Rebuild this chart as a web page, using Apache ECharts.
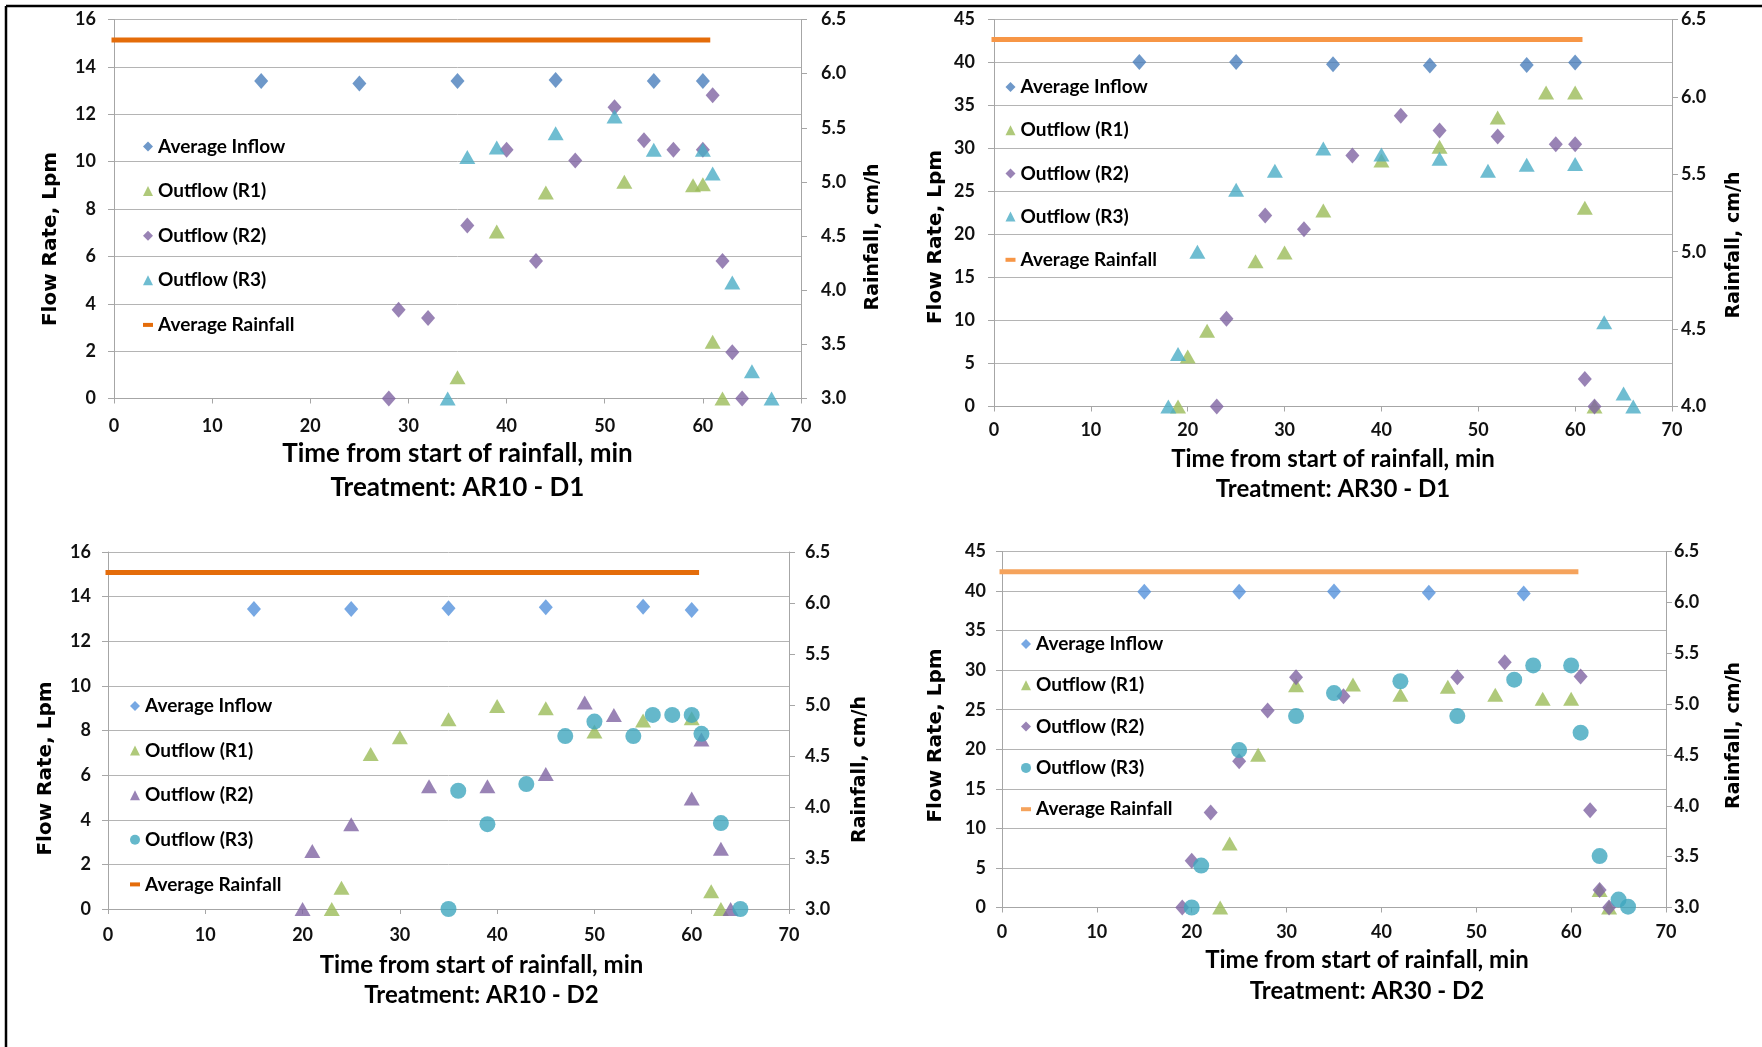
<!DOCTYPE html>
<html>
<head>
<meta charset="utf-8">
<script src="https://cdn.jsdelivr.net/npm/echarts@6/dist/echarts.min.js"></script>
<style>
html,body{margin:0;padding:0;background:#fff;}
#chart{width:1762px;height:1047px;}
</style>
</head>
<body>
<div id="chart"></div>
<script>
// ---------- DATA ----------
const xTicks = [0, 10, 20, 30, 40, 50, 60, 70];
const legendNames = ['Average Inflow', 'Outflow (R1)', 'Outflow (R2)', 'Outflow (R3)', 'Average Rainfall'];
const treatments = ['Treatment: AR10 - D1', 'Treatment: AR30 - D1', 'Treatment: AR10 - D2', 'Treatment: AR30 - D2'];

// AR10 - D1
const ar10d1Inflow = [[15,13.4],[25,13.3],[35,13.4],[45,13.45],[55,13.4],[60,13.4]];
const ar10d1R1 = [[35,0.9],[39,7.05],[44,8.7],[52,9.15],[59,9.0],[60,9.05],[61,2.4],[62,0]];
const ar10d1R2 = [[28,0],[29,3.75],[32,3.4],[36,7.3],[40,10.5],[43,5.8],[47,10.05],[51,12.3],[54,10.9],[57,10.5],[60,10.5],[61,12.8],[62,5.8],[63,1.95],[64,0]];
const ar10d1R3 = [[34,0],[36,10.2],[39,10.6],[45,11.2],[51,11.9],[55,10.5],[60,10.5],[61,9.5],[63,4.9],[65,1.15],[67,0]];
const ar10d1Rain = [[0,6.31],[60.5,6.31]];

// AR30 - D1
const ar30d1Inflow = [[15,40.05],[25,40.05],[35,39.8],[45,39.65],[55,39.7],[60,40]];
const ar30d1R1 = [[19,0],[20,5.8],[22,8.8],[27,16.9],[30,17.9],[34,22.8],[40,28.6],[46,30.2],[52,33.6],[57,36.5],[60,36.5],[61,23.1],[62,0]];
const ar30d1R2 = [[23,0],[24,10.2],[28,22.2],[32,20.6],[37,29.2],[42,33.8],[46,32.1],[52,31.4],[58,30.5],[60,30.5],[61,3.2],[62,0]];
const ar30d1R3 = [[18,0],[19,6.1],[21,18],[25,25.2],[29,27.4],[34,30],[40,29.3],[46,28.8],[51,27.4],[55,28.1],[60,28.2],[63,9.8],[65,1.5],[66,0]];
const ar30d1Rain = [[0,6.37],[60.5,6.37]];

// AR10 - D2
const ar10d2Inflow = [[15,13.45],[25,13.45],[35,13.48],[45,13.52],[55,13.55],[60,13.4]];
const ar10d2R1 = [[23,0],[24,0.95],[27,6.95],[30,7.7],[35,8.5],[40,9.1],[45,9.0],[50,7.95],[55,8.45],[60,8.55],[62,0.8],[63,0]];
const ar10d2R2 = [[20,0],[21,2.6],[25,3.8],[33,5.5],[39,5.5],[45,6.05],[49,9.25],[52,8.7],[60,4.95],[61,7.6],[63,2.7],[64,0]];
const ar10d2R3 = [[35,0],[36,5.3],[39,3.8],[43,5.6],[47,7.75],[50,8.4],[54,7.75],[56,8.7],[58,8.7],[60,8.7],[61,7.85],[63,3.85],[65,0]];
const ar10d2Rain = [[0,6.30],[60.5,6.30]];

// AR30 - D2
const ar30d2Inflow = [[15,39.9],[25,39.9],[35,39.95],[45,39.8],[55,39.7]];
const ar30d2R1 = [[23,0],[24,8.1],[27,19.3],[31,28.1],[37,28.2],[42,26.9],[47,27.9],[52,26.9],[57,26.4],[60,26.4],[63,2.2],[64,0]];
const ar30d2R2 = [[19,0],[20,5.9],[22,12],[25,18.5],[28,24.9],[31,29.1],[36,26.7],[48,29.1],[53,31],[61,29.2],[62,12.3],[63,2.2],[64,0]];
const ar30d2R3 = [[20,0],[21,5.3],[25,19.9],[31,24.2],[35,27.1],[42,28.6],[48,24.2],[54,28.8],[56,30.6],[60,30.6],[61,22.1],[63,6.5],[65,1],[66,0.1]];
const ar30d2Rain = [[0,6.30],[60.5,6.30]];

// ---------- LAYOUT / STYLE ----------
const panels = [
  { data:[ar10d1Inflow, ar10d1R1, ar10d1R2, ar10d1R3, ar10d1Rain],
    grid:{left:114, top:19.5, width:687, height:379},
    yMax:16, yInt:2, rMin:3, rMax:6.5,
    sym:['diamond','triangle','diamond','triangle'],
    col:['#4A7EBB','#9BBB59','#8064A2','#4BACC6','#E46C0A'],
    legend:{left:143, top:136.5, gap:24.6},
    gapL:53, gapR:63, gapX:34, lh:34, fX:26, shX:0,
    mL:18, mR:20, mX:19, shL:30, shR:28 },
  { data:[ar30d1Inflow, ar30d1R1, ar30d1R2, ar30d1R3, ar30d1Rain],
    grid:{left:994, top:19.5, width:678, height:387},
    yMax:45, yInt:5, rMin:4, rMax:6.5,
    sym:['diamond','triangle','diamond','triangle'],
    col:['#4A7EBB','#9BBB59','#8064A2','#4BACC6','#F79646'],
    legend:{left:1005.5, top:77, gap:23.2},
    gapL:48, gapR:53, gapX:38, lh:30, fX:24, shX:0,
    mL:19, mR:9, mX:15, shL:24, shR:32 },
  { data:[ar10d2Inflow, ar10d2R1, ar10d2R2, ar10d2R3, ar10d2Rain],
    grid:{left:108, top:552, width:681, height:357},
    yMax:16, yInt:2, rMin:3, rMax:6.5,
    sym:['diamond','triangle','triangle','circle'],
    col:['#5592DC','#9BBB59','#8064A2','#3FA6BE','#E46C0A'],
    legend:{left:130, top:696, gap:24.6},
    gapL:52, gapR:62, gapX:41, lh:30.5, fX:24, shX:33,
    mL:17, mR:16, mX:17.5, shL:38, shR:39 },
  { data:[ar30d2Inflow, ar30d2R1, ar30d2R2, ar30d2R3, ar30d2Rain],
    grid:{left:1002, top:551.5, width:664, height:356},
    yMax:45, yInt:5, rMin:3, rMax:6.5,
    sym:['diamond','triangle','diamond','circle'],
    col:['#5592DC','#9BBB59','#8064A2','#3FA6BE','#F5A35C'],
    legend:{left:1021, top:634, gap:21.3},
    gapL:56, gapR:59, gapX:38, lh:30.5, fX:24, shX:33,
    mL:16, mR:8, mX:15.5, shL:6, shR:6 }
];

const symSize = { diamond:[14,16], triangle:[16,14], circle:16 };
const gridColor = '#B4B4B4';
const axisColor = '#A6A6A6';
const tickFont = { fontFamily:'Lato', fontWeight:'bold', fontSize:18, color:'#111' };

const option = { animation:false, backgroundColor:'#fff', grid:[], xAxis:[], yAxis:[], series:[], legend:[],
  graphic:[
    {type:'line', shape:{x1:6,y1:6,x2:1762,y2:6}, style:{stroke:'#000', lineWidth:2.5}, silent:true},
    {type:'line', shape:{x1:6,y1:6,x2:6,y2:1047}, style:{stroke:'#000', lineWidth:2.5}, silent:true}
  ]};

panels.forEach((p, i) => {
  option.grid.push(Object.assign({containLabel:false}, p.grid));
  option.xAxis.push({
    type:'value', gridIndex:i, min:xTicks[0], max:xTicks[xTicks.length-1], interval:xTicks[1]-xTicks[0],
    axisLine:{show:true, lineStyle:{color:axisColor, width:1}},
    axisTick:{show:true, length:5, lineStyle:{color:axisColor}},
    splitLine:{show:false},
    axisLabel:Object.assign({margin:p.mX}, tickFont),
    name:'Time from start of rainfall, min\n' + treatments[i],
    nameLocation:'middle', nameGap:p.gapX,
    nameTextStyle:{fontFamily:'Lato', fontWeight:'bold', fontSize:p.fX, color:'#000', lineHeight:p.lh,
      padding:[0, 0, 0, 2*p.shX]}
  });
  option.yAxis.push({
    type:'value', gridIndex:i, min:0, max:p.yMax, interval:p.yInt, position:'left',
    axisLine:{show:true, lineStyle:{color:axisColor, width:1}},
    axisTick:{show:true, length:6, lineStyle:{color:axisColor}},
    splitLine:{show:true, lineStyle:{color:gridColor, width:1}},
    axisLabel:Object.assign({margin:p.mL}, tickFont),
    name:'Flow Rate, Lpm', nameLocation:'middle', nameRotate:90, nameGap:p.gapL,
    nameTextStyle:{fontFamily:'DejaVu Sans', fontWeight:'bold', fontSize:20, color:'#000', padding:[0, 2*p.shL, 0, 0]}
  });
  option.yAxis.push({
    type:'value', gridIndex:i, min:p.rMin, max:p.rMax, interval:0.5, position:'right',
    axisLine:{show:true, lineStyle:{color:axisColor, width:1}},
    axisTick:{show:true, length:6, lineStyle:{color:axisColor}},
    splitLine:{show:false},
    axisLabel:Object.assign({margin:p.mR, formatter:v => v.toFixed(1)}, tickFont),
    name:'Rainfall, cm/h', nameLocation:'middle', nameRotate:90, nameGap:p.gapR,
    nameTextStyle:{fontFamily:'DejaVu Sans', fontWeight:'bold', fontSize:19, color:'#000', padding:[0, 2*p.shR, 0, 0]}
  });
  const names = legendNames.map(n => n + '|' + i);
  for (let k = 0; k < 4; k++) {
    option.series.push({
      type:'scatter', name:names[k], xAxisIndex:i, yAxisIndex:2*i,
      data:p.data[k], symbol:p.sym[k], symbolSize:symSize[p.sym[k]],
      itemStyle:{color:p.col[k]}, z:2+k
    });
  }
  option.series.push({
    type:'line', name:names[4], xAxisIndex:i, yAxisIndex:2*i+1,
    data:p.data[4], symbol:'none', showSymbol:false, z:7,
    itemStyle:{color:p.col[4]}, color:p.col[4],
    lineStyle:{color:p.col[4], width:5, cap:'square'}
  });
  option.legend.push({
    orient:'vertical', left:p.legend.left, top:p.legend.top, itemGap:p.legend.gap,
    padding:0, itemWidth:10, itemHeight:10, selectedMode:false,
    formatter: n => n.split('|')[0],
    textStyle:{fontFamily:'Lato', fontWeight:'bold', fontSize:19, color:'#000', lineHeight:20},
    data: names.map((n, k) => k < 4
      ? {name:n, icon:p.sym[k], itemStyle:{color:p.col[k]}}
      : {name:n, icon:'path://M0,0H10V4H0Z', itemStyle:{color:p.col[4]}})
  });
});

const chart = echarts.init(document.getElementById('chart'), null, {renderer:'canvas'});
chart.setOption(option);
</script>
</body>
</html>
